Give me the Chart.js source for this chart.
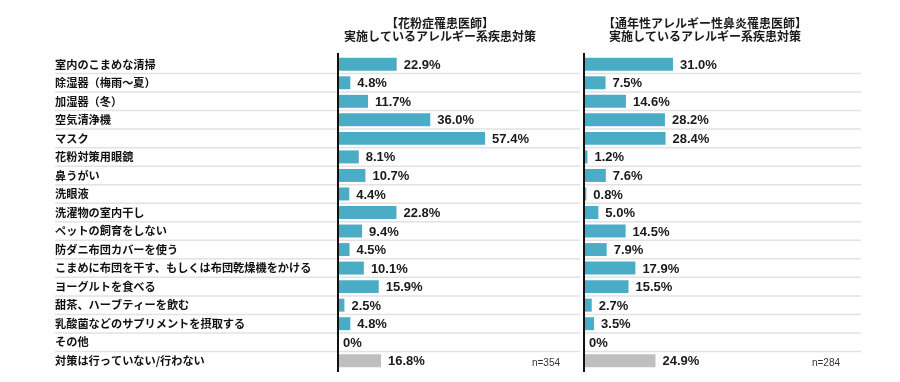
<!DOCTYPE html>
<html lang="ja">
<head>
<meta charset="utf-8">
<script src="https://cdn.jsdelivr.net/npm/chart.js@4"></script>
<style>
  html, body { margin: 0; padding: 0; background: #fff; }
  canvas { display: block; }
</style>
</head>
<body>
<canvas id="chart" width="900" height="382"></canvas>
<script>
const categories = [
  '室内のこまめな清掃',
  '除湿器（梅雨～夏）',
  '加湿器（冬）',
  '空気清浄機',
  'マスク',
  '花粉対策用眼鏡',
  '鼻うがい',
  '洗眼液',
  '洗濯物の室内干し',
  'ペットの飼育をしない',
  '防ダニ布団カバーを使う',
  'こまめに布団を干す、もしくは布団乾燥機をかける',
  'ヨーグルトを食べる',
  '甜茶、ハーブティーを飲む',
  '乳酸菌などのサプリメントを摂取する',
  'その他',
  '対策は行っていない/行わない'
];
const pollenValues    = [22.9, 4.8, 11.7, 36.0, 57.4, 8.1, 10.7, 4.4, 22.8, 9.4, 4.5, 10.1, 15.9, 2.5, 4.8, 0, 16.8];
const perennialValues = [31.0, 7.5, 14.6, 28.2, 28.4, 1.2, 7.6, 0.8, 5.0, 14.5, 7.9, 17.9, 15.5, 2.7, 3.5, 0, 24.9];
const pollenTitle    = ['【花粉症罹患医師】', '実施しているアレルギー系疾患対策'];
const perennialTitle = ['【通年性アレルギー性鼻炎罹患医師】', '実施しているアレルギー系疾患対策'];
const sampleSizes = ['n=354', 'n=284'];

const teal = '#4bacc6';
const gray = '#bfbfbf';
const lastIdx = categories.length - 1;
const barColors = categories.map((c, i) => i === lastIdx ? gray : teal);

const jpFont = '"Noto Sans CJK JP", "Noto Sans", sans-serif';
const numFont = '"Liberation Sans Narrow", "Liberation Sans", Arial, sans-serif';

function fmt(v) {
  return v === 0 ? '0%' : v.toFixed(1) + '%';
}

// separators, axis lines, value labels, titles
const panelDecor = {
  id: 'panelDecor',
  beforeDatasetsDraw(chart) {
    const ctx = chart.ctx;
    const y = chart.scales.y;
    const x1 = chart.scales.x1;
    const x2 = chart.scales.x2;
    ctx.save();
    ctx.strokeStyle = '#e2e2e2';
    ctx.lineWidth = 1.5;
    for (let i = 1; i < categories.length; i++) {
      const py = (y.getPixelForValue(i - 1) + y.getPixelForValue(i)) / 2;
      ctx.beginPath();
      ctx.moveTo(y.left, py);
      ctx.lineTo(x1.right - 4, py);
      ctx.moveTo(x2.left, py);
      ctx.lineTo(x2.right, py);
      ctx.stroke();
    }
    ctx.restore();
  },
  afterDatasetsDraw(chart) {
    const ctx = chart.ctx;
    const y = chart.scales.y;
    const top = y.top - 2;
    const bottom = y.bottom + 2;
    ctx.save();
    ['x1', 'x2'].forEach(id => {
      const px = chart.scales[id].getPixelForValue(0);
      ctx.strokeStyle = '#111';
      ctx.lineWidth = 2;
      ctx.beginPath();
      ctx.moveTo(px, top);
      ctx.lineTo(px, bottom);
      ctx.stroke();
    });

    ctx.fillStyle = '#1a1a1a';
    ctx.font = 'bold 13px ' + numFont;
    ctx.textAlign = 'left';
    ctx.textBaseline = 'middle';
    chart.data.datasets.forEach((ds, di) => {
      const meta = chart.getDatasetMeta(di);
      meta.data.forEach((bar, i) => {
        const v = ds.data[i];
        const tx = v === 0 ? bar.base + 5 : bar.x + 7;
        ctx.fillText(fmt(v), tx, bar.y + 1);
      });
    });

    // titles
    ctx.font = 'bold 12px ' + jpFont;
    ctx.textAlign = 'center';
    ctx.textBaseline = 'middle';
    const x1 = chart.scales.x1;
    const x2 = chart.scales.x2;
    const t1x = x1.left + 102;
    const t2x = x2.left + 121;
    pollenTitle.forEach((line, k) => ctx.fillText(line, t1x, 23 + k * 13));
    perennialTitle.forEach((line, k) => ctx.fillText(line, t2x, 23 + k * 13));

    // sample sizes
    ctx.font = '10px ' + numFont;
    ctx.fillStyle = '#333';
    ctx.textAlign = 'right';
    const ny = y.getPixelForValue(lastIdx) + 3;
    ctx.fillText(sampleSizes[0], x1.right - 24, ny);
    ctx.fillText(sampleSizes[1], x2.right - 21, ny);
    ctx.restore();
  }
};

const hiddenX = (weight, max) => ({
  type: 'linear',
  position: 'bottom',
  stack: 'panels',
  stackWeight: weight,
  min: 0,
  max: max,
  ticks: { display: false },
  grid: { display: false, drawTicks: false },
  border: { display: false },
  afterFit(scale) { scale.height = 0; }
});

new Chart(document.getElementById('chart'), {
  type: 'bar',
  data: {
    labels: categories,
    datasets: [
      {
        label: '花粉症罹患医師',
        data: pollenValues,
        xAxisID: 'x1',
        backgroundColor: barColors,
        grouped: false,
        barPercentage: 0.7,
        categoryPercentage: 1
      },
      {
        label: '通年性アレルギー性鼻炎罹患医師',
        data: perennialValues,
        xAxisID: 'x2',
        backgroundColor: barColors,
        grouped: false,
        barPercentage: 0.7,
        categoryPercentage: 1
      }
    ]
  },
  options: {
    indexAxis: 'y',
    responsive: false,
    animation: false,
    devicePixelRatio: 1,
    layout: { padding: { left: 55, top: 55, right: 39, bottom: 12 } },
    plugins: {
      legend: { display: false },
      tooltip: { enabled: false }
    },
    scales: {
      y: {
        type: 'category',
        position: 'left',
        grid: { display: false },
        border: { display: false },
        ticks: {
          crossAlign: 'far',
          color: '#111',
          autoSkip: false,
          padding: 0,
          font: { family: jpFont, size: 11.2, weight: 'bold' }
        },
        afterFit(scale) { scale.width = 283; }
      },
      x1: hiddenX(246, 96),
      x2: hiddenX(277, 96.5)
    }
  },
  plugins: [panelDecor]
});
</script>
</body>
</html>
